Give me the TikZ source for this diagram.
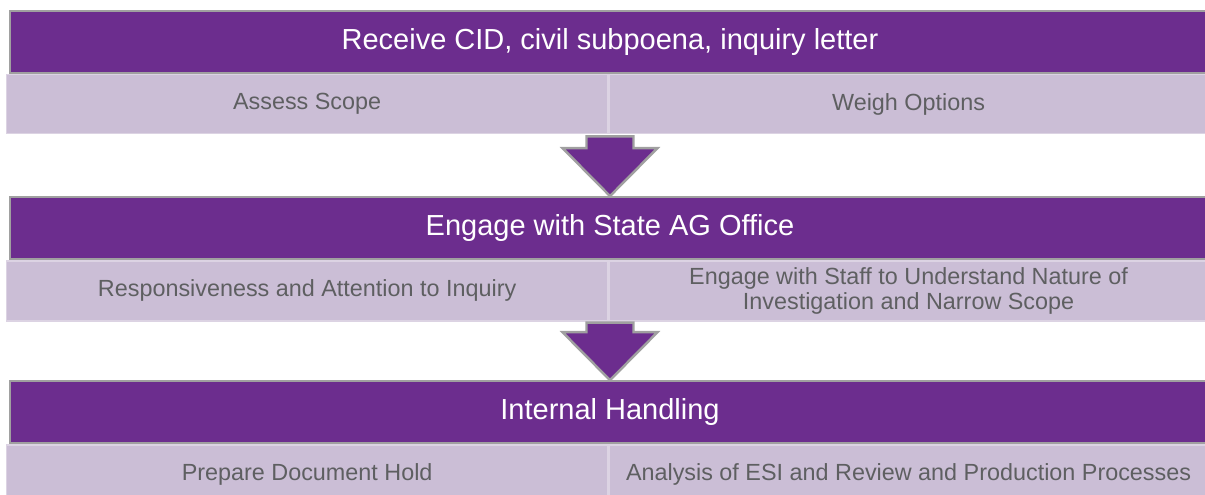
\documentclass[tikz,border=0pt]{standalone}
\usepackage{fontspec}
\setmainfont{Liberation Sans}
\usetikzlibrary{positioning,calc}

\definecolor{headpurple}{HTML}{6C2D8E}
\definecolor{cellpurple}{HTML}{CBBED6}
\definecolor{celledge}{HTML}{DCD3E3}
\definecolor{bordergray}{HTML}{A0A0A0}
\definecolor{textgray}{HTML}{5E5F61}

\newcommand{\flowarrow}[2]{%
  \draw[flow] ($(#1)+(-0.47,0)$) -- ($(#1)+(0.47,0)$)
    -- ($(#2.north)+(0.47,0.96)$) -- ($(#2.north)+(0.95,0.96)$)
    -- (#2.north)
    -- ($(#2.north)+(-0.95,0.96)$) -- ($(#2.north)+(-0.47,0.96)$) -- cycle;}

\begin{document}
\begin{tikzpicture}[node distance=2.4cm]
\tikzstyle{header}=[rectangle,fill=headpurple,draw=bordergray,line width=1.2pt,
                    text=white,minimum width=24cm,minimum height=1.24cm,inner sep=0pt,
                    font=\fontsize{16.5}{19}\selectfont]
\tikzstyle{cell}=[rectangle,fill=cellpurple,draw=celledge,line width=0.8pt,
                  text=textgray,minimum height=1.18cm,inner sep=0pt,align=center,
                  font=\fontsize{13.3}{13.8}\selectfont]
\tikzstyle{flow}=[fill=headpurple,draw=bordergray,line width=1.4pt,line join=miter]

\useasboundingbox (0,0) rectangle (24.1,-9.9);
\clip (0,0) rectangle (24.1,-9.9);

\node[header]	(receive)	at (12.2,-0.84)	{Receive CID, civil subpoena, inquiry letter};
\node[cell,anchor=north west,minimum width=12.02cm]	(scope)	at ([xshift=-0.06cm]receive.south west)	{Assess Scope};
\node[cell,anchor=north west,minimum width=11.98cm]	(options)	at (scope.north east)	{Weigh Options};

\node[header]	(engage)	[below=2.44cm of receive]	{Engage with State AG Office};
\node[cell,anchor=north west,minimum width=12.02cm,minimum height=1.2cm]	(respond)	at ([xshift=-0.06cm]engage.south west)	{Responsiveness and Attention to Inquiry};
\node[cell,anchor=north west,minimum width=11.98cm,minimum height=1.2cm]	(staff)	at (respond.north east)	{Engage with Staff to Understand Nature of\\Investigation and Narrow Scope};

\node[header]	(internal)	[below=2.4cm of engage]	{Internal Handling};
\node[cell,anchor=north west,minimum width=12.02cm]	(hold)	at ([xshift=-0.06cm]internal.south west)	{Prepare Document Hold};
\node[cell,anchor=north west,minimum width=11.98cm]	(esi)	at (hold.north east)	{Analysis of ESI and Review and Production Processes};

\coordinate (top1) at ($(scope.south -| receive.south)+(0,-0.04)$);
\coordinate (top2) at ($(respond.south -| engage.south)+(0,-0.02)$);
\flowarrow{top1}{engage}
\flowarrow{top2}{internal}

\end{tikzpicture}
\end{document}
